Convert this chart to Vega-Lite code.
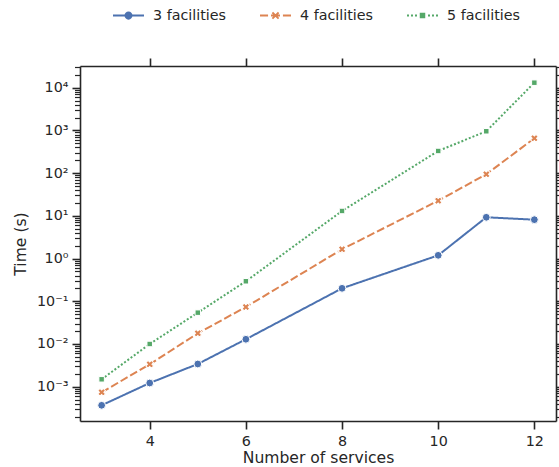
{
  "$schema": "https://vega.github.io/schema/vega-lite/v6.json",
  "width": 476,
  "height": 355,
  "autosize": "none",
  "padding": {"left": 80, "top": 66, "right": 3, "bottom": 46},
  "background": "white",
  "data": {
    "values": [
      {"n": 3, "series": "3 facilities", "time": 0.000367},
      {"n": 4, "series": "3 facilities", "time": 0.00122},
      {"n": 5, "series": "3 facilities", "time": 0.0034},
      {"n": 6, "series": "3 facilities", "time": 0.0129},
      {"n": 8, "series": "3 facilities", "time": 0.201},
      {"n": 10, "series": "3 facilities", "time": 1.19},
      {"n": 11, "series": "3 facilities", "time": 9.25},
      {"n": 12, "series": "3 facilities", "time": 8.13},
      {"n": 3, "series": "4 facilities", "time": 0.000739},
      {"n": 4, "series": "4 facilities", "time": 0.00334},
      {"n": 5, "series": "4 facilities", "time": 0.0178},
      {"n": 6, "series": "4 facilities", "time": 0.0734},
      {"n": 8, "series": "4 facilities", "time": 1.65},
      {"n": 10, "series": "4 facilities", "time": 22.6},
      {"n": 11, "series": "4 facilities", "time": 94},
      {"n": 12, "series": "4 facilities", "time": 655},
      {"n": 3, "series": "5 facilities", "time": 0.00149},
      {"n": 4, "series": "5 facilities", "time": 0.01},
      {"n": 5, "series": "5 facilities", "time": 0.0541},
      {"n": 6, "series": "5 facilities", "time": 0.294},
      {"n": 8, "series": "5 facilities", "time": 13.0},
      {"n": 10, "series": "5 facilities", "time": 330},
      {"n": 11, "series": "5 facilities", "time": 955},
      {"n": 12, "series": "5 facilities", "time": 13100}
    ]
  },
  "config": {
    "view": {"stroke": null},
    "font": "DejaVu Sans",
    "axis": {
      "domainColor": "#262626",
      "domainWidth": 1.6,
      "tickColor": "#262626",
      "labelColor": "#262626",
      "titleColor": "#262626",
      "labelFont": "DejaVu Sans",
      "titleFont": "DejaVu Sans",
      "labelFontSize": 14.3,
      "titleFontSize": 15.6,
      "titleFontWeight": "normal",
      "grid": false
    }
  },
  "layer": [
    {
      "mark": {"type": "line", "strokeWidth": 2},
      "encoding": {
        "x": {
          "field": "n", "type": "quantitative",
          "scale": {"domain": [2.55, 12.45], "nice": false, "zero": false},
          "axis": {"orient": "bottom", "values": [4, 6, 8, 10, 12], "title": "Number of services", "tickSize": 8, "tickWidth": 1.6, "labelPadding": 5, "titlePadding": 2, "labelFlush": false}
        },
        "y": {
          "field": "time", "type": "quantitative",
          "scale": {"type": "log", "domain": [0.0001574, 32200], "nice": false},
          "axis": {
            "orient": "left",
            "title": "Time (s)",
            "values": [0.0002,0.0003,0.0004,0.0005,0.0006,0.0007,0.0008,0.0009,0.001,0.002,0.003,0.004,0.005,0.006,0.007,0.008,0.009,0.01,0.02,0.03,0.04,0.05,0.06,0.07,0.08,0.09,0.1,0.2,0.3,0.4,0.5,0.6,0.7,0.8,0.9,1,2,3,4,5,6,7,8,9,10,20,30,40,50,60,70,80,90,100,200,300,400,500,600,700,800,900,1000,2000,3000,4000,5000,6000,7000,8000,9000,10000,20000,30000],
            "labelExpr": "abs(log(datum.value)/LN10-round(log(datum.value)/LN10))>0.01?'':(round(log(datum.value)/LN10)==-3?'10⁻³':round(log(datum.value)/LN10)==-2?'10⁻²':round(log(datum.value)/LN10)==-1?'10⁻¹':round(log(datum.value)/LN10)==0?'10⁰':round(log(datum.value)/LN10)==1?'10¹':round(log(datum.value)/LN10)==2?'10²':round(log(datum.value)/LN10)==3?'10³':'10⁴')",
            "labelOverlap": false,
            "labelFlush": false,
            "labelPadding": 4,
            "titlePadding": 8,
            "tickSize": {"condition": {"test": "abs(log(datum.value)/LN10-round(log(datum.value)/LN10))<0.01", "value": 8}, "value": 5.5},
            "tickWidth": {"condition": {"test": "abs(log(datum.value)/LN10-round(log(datum.value)/LN10))<0.01", "value": 1.6}, "value": 1.2}
          }
        },
        "stroke": {"field": "series", "type": "nominal", "scale": {"range": ["#4C72B0", "#DD8452", "#55A868"]}, "legend": null},
        "strokeDash": {"field": "series", "type": "nominal", "scale": {"range": [[1, 0], [8, 3], [2, 2]]}, "legend": null}
      }
    },
    {
      "transform": [{"filter": "datum.series === '3 facilities'"}],
      "mark": {"type": "point", "filled": true, "shape": "circle", "size": 61, "stroke": "white", "strokeWidth": 1, "opacity": 1, "fill": "#4C72B0"},
      "encoding": {
        "x": {"field": "n", "type": "quantitative", "scale": {"domain": [2.55, 12.45], "nice": false, "zero": false}, "axis": null},
        "y": {"field": "time", "type": "quantitative", "scale": {"type": "log", "domain": [0.0001574, 32200], "nice": false}, "axis": null}
      }
    },
    {
      "transform": [{"filter": "datum.series === '4 facilities'"}],
      "mark": {"type": "point", "filled": true, "shape": "cross", "angle": 45, "size": 61, "stroke": "white", "strokeWidth": 1, "opacity": 1, "fill": "#DD8452"},
      "encoding": {
        "x": {"field": "n", "type": "quantitative", "scale": {"domain": [2.55, 12.45], "nice": false, "zero": false}, "axis": null},
        "y": {"field": "time", "type": "quantitative", "scale": {"type": "log", "domain": [0.0001574, 32200], "nice": false}, "axis": null}
      }
    },
    {
      "transform": [{"filter": "datum.series === '5 facilities'"}],
      "mark": {"type": "point", "filled": true, "shape": "square", "size": 30, "stroke": "white", "strokeWidth": 1, "opacity": 1, "fill": "#55A868"},
      "encoding": {
        "x": {"field": "n", "type": "quantitative", "scale": {"domain": [2.55, 12.45], "nice": false, "zero": false}, "axis": null},
        "y": {"field": "time", "type": "quantitative", "scale": {"type": "log", "domain": [0.0001574, 32200], "nice": false}, "axis": null}
      }
    },
    {
      "mark": {"type": "point", "filled": true, "opacity": 0},
      "encoding": {
        "x": {
          "field": "n", "type": "quantitative",
          "scale": {"domain": [2.55, 12.45], "nice": false, "zero": false},
          "axis": {"orient": "top", "values": [4, 6, 8, 10, 12], "title": null, "labels": false, "tickSize": 8, "tickWidth": 1.6}
        },
        "y": {
          "field": "time", "type": "quantitative",
          "scale": {"type": "log", "domain": [0.0001574, 32200], "nice": false},
          "axis": {
            "orient": "right",
            "title": null,
            "labels": false,
            "values": [0.0002,0.0003,0.0004,0.0005,0.0006,0.0007,0.0008,0.0009,0.001,0.002,0.003,0.004,0.005,0.006,0.007,0.008,0.009,0.01,0.02,0.03,0.04,0.05,0.06,0.07,0.08,0.09,0.1,0.2,0.3,0.4,0.5,0.6,0.7,0.8,0.9,1,2,3,4,5,6,7,8,9,10,20,30,40,50,60,70,80,90,100,200,300,400,500,600,700,800,900,1000,2000,3000,4000,5000,6000,7000,8000,9000,10000,20000,30000],
            "tickSize": {"condition": {"test": "abs(log(datum.value)/LN10-round(log(datum.value)/LN10))<0.01", "value": 8}, "value": 5.5},
            "tickWidth": {"condition": {"test": "abs(log(datum.value)/LN10-round(log(datum.value)/LN10))<0.01", "value": 1.6}, "value": 1.2}
          }
        },
        "color": {
          "field": "series", "type": "nominal",
          "scale": {"domain": ["3 facilities", "4 facilities", "5 facilities"], "range": ["#4C72B0", "#DD8452", "#55A868"]},
          "legend": {"orient": "none", "legendX": 33, "legendY": -66, "direction": "horizontal", "columns": 3, "title": null, "symbolSize": 961, "symbolOpacity": 1, "symbolStrokeWidth": 0, "labelOffset": 9, "columnPadding": 33, "labelFontSize": 14.3, "labelFont": "DejaVu Sans", "labelColor": "#262626", "padding": 0}
        },
        "shape": {
          "field": "series", "type": "nominal",
          "scale": {
            "domain": ["3 facilities", "4 facilities", "5 facilities"],
            "range": [
              "M-1,-0.065H1V0.065H-1Z M0,-0.26A0.26,0.26 0 1,1 0,0.26A0.26,0.26 0 1,1 0,-0.26Z",
              "M-1,-0.065H-0.48V0.065H-1Z M-0.29,-0.065H0.29V0.065H-0.29Z M0.48,-0.065H1V0.065H0.48Z M-0.158,-0.242L0.242,0.158L0.158,0.242L-0.242,-0.158Z M-0.242,0.158L0.158,-0.242L0.242,-0.158L-0.158,0.242Z",
              "M-1,-0.065H-0.871V0.065H-1Z M-0.742,-0.065H-0.613V0.065H-0.742Z M-0.484,-0.065H-0.355V0.065H-0.484Z M-0.177,-0.177H0.177V0.177H-0.177Z M0.355,-0.065H0.484V0.065H0.355Z M0.613,-0.065H0.742V0.065H0.613Z M0.871,-0.065H1V0.065H0.871Z"
            ]
          },
          "legend": {"orient": "none", "legendX": 33, "legendY": -66, "direction": "horizontal", "columns": 3, "title": null, "symbolSize": 961, "symbolOpacity": 1, "symbolStrokeWidth": 0, "labelOffset": 9, "columnPadding": 33, "labelFontSize": 14.3, "labelFont": "DejaVu Sans", "labelColor": "#262626", "padding": 0}
        }
      }
    }
  ],
  "resolve": {"axis": {"x": "independent", "y": "independent"}}
}
